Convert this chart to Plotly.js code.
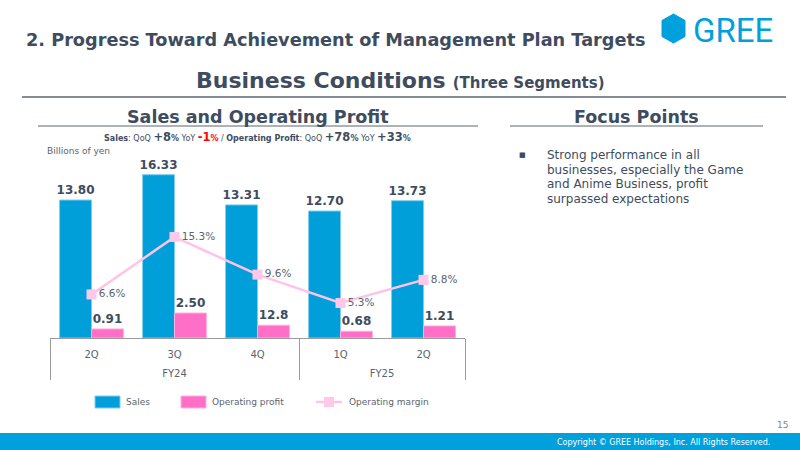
<!DOCTYPE html>
<html>
<head>
<meta charset="utf-8">
<script src="https://cdn.plot.ly/plotly-3.0.1.min.js"></script>
<style>
  html, body { margin: 0; padding: 0; background: #ffffff; }
  #chart { width: 800px; height: 450px; }
</style>
</head>
<body>
<div id="chart"></div>
<script>
// ---- data ----
var fiscalYears = ["FY24", "FY24", "FY24", "FY25", "FY25"];
// second FY25 "2Q" carries a zero-width space so the category stays distinct and in order
var quarters = ["2Q", "3Q", "4Q", "1Q", "2Q\u200B"];
var sales = [13.80, 16.33, 13.31, 12.70, 13.73];
var salesLabels = ["13.80", "16.33", "13.31", "12.70", "13.73"];
var operatingProfit = [0.91, 2.50, 1.28, 0.68, 1.21];
var profitLabels = ["0.91", "2.50", "12.8", "0.68", "1.21"];
var operatingMargin = [6.6, 15.3, 9.6, 5.3, 8.8];
var marginLabels = ["6.6%", "15.3%", "9.6%", "5.3%", "8.8%"];
var seriesNames = ["Sales", "Operating profit", "Operating margin"];
var focusLines = ["Strong performance in all", "businesses, especially the Game", "and Anime Business, profit", "surpassed expectations"];

// ---- geometry helpers (pixel -> paper) ----
var L = 50, R = 465, T = 163, B = 338;
function X(px) { return (px - L) / (R - L); }
function Y(py) { return (B - py) / (B - T); }

var slate = "#3E4C5E";
var grayText = "#5A6470";
var FONT = "DejaVu Sans, Verdana, sans-serif";
var BLUE = "#009FD9", PINK = "#FF6FC8", LINEPINK = "#FFC3E6";

var xcat = [fiscalYears.map(function (f) { return "<br>" + f; }), quarters];

var traces = [
  {
    type: "bar", name: seriesNames[0], x: xcat, y: sales,
    text: salesLabels, textposition: "outside", cliponaxis: false,
    constraintext: "none",
    textfont: { family: FONT, size: 12, color: slate, weight: "bold" },
    marker: { color: BLUE, line: { color: "#7FCDEE", width: 1 } },
    hoverinfo: "skip"
  },
  {
    type: "bar", name: seriesNames[1], x: xcat, y: operatingProfit,
    text: profitLabels, textposition: "outside", cliponaxis: false,
    constraintext: "none",
    textfont: { family: FONT, size: 12, color: slate, weight: "bold" },
    marker: { color: PINK, line: { color: "#FFB0E0", width: 1 } },
    hoverinfo: "skip"
  },
  {
    type: "scatter", mode: "lines+markers+text", name: seriesNames[2],
    x: xcat, y: operatingMargin, yaxis: "y2",
    text: marginLabels, textposition: "middle right", cliponaxis: false,
    textfont: { family: FONT, size: 10.5, color: grayText },
    line: { color: LINEPINK, width: 2.5 },
    marker: { symbol: "square", size: 10, color: "#FFC8E8", line: { width: 0 } },
    hoverinfo: "skip"
  }
];

var ann = [];
function addText(text, px, py, size, opts) {
  opts = opts || {};
  ann.push(Object.assign({
    text: text, xref: "paper", yref: "paper", x: X(px), y: Y(py),
    xanchor: "left", yanchor: "middle", showarrow: false,
    font: { family: FONT, size: size, color: slate }
  }, opts));
}

addText("<b>2. Progress Toward Achievement of Management Plan Targets</b>", 24, 40, 17.7);
addText("<b>Business Conditions</b> <b><span style='font-size:15px'>(Three Segments)</span></b>", 400, 80, 22, { xanchor: "center" });
addText("<b>Sales and Operating Profit</b>", 258, 117, 17.5, { xanchor: "center" });
addText("<b>Focus Points</b>", 636, 117, 17.5, { xanchor: "center" });
addText("<b>Sales</b>: QoQ <b><span style='font-size:11.5px'>+8</span>%</b> YoY <b><span style='color:#FF0000'><span style='font-size:11.5px'>-1</span>%</span></b> / <b>Operating Profit</b>: QoQ <b><span style='font-size:11.5px'>+78</span>%</b> YoY <b><span style='font-size:11.5px'>+33</span>%</b>", 257, 137, 8, { xanchor: "center" });
addText("Billions of yen", 45, 151, 9, { font: { family: FONT, size: 9, color: grayText } });
addText("■", 522, 155, 7, { xanchor: "center" });
var focusY = [155, 169.7, 184.4, 199.1];
focusLines.forEach(function (t, i) { addText(t, 545, focusY[i], 12); });
addText("GREE", 691, 30, 33, { font: { family: "Roboto, Noto Sans, sans-serif", size: 33, color: "#00A0DC" } });
addText("15", 790, 425, 9, { xanchor: "right", font: { family: FONT, size: 9, color: "#7A8490" } });
addText("Copyright © GREE Holdings, Inc. All Rights Reserved.", 772, 442, 8, { xanchor: "right", font: { family: FONT, size: 8, color: "#FFFFFF" } });

// legend labels
var legendY = 402;
addText(seriesNames[0], 124, legendY, 9, { font: { family: FONT, size: 9, color: grayText } });
addText(seriesNames[1], 210, legendY, 9, { font: { family: FONT, size: 9, color: grayText } });
addText(seriesNames[2], 347, legendY, 9, { font: { family: FONT, size: 9, color: grayText } });

var shapes = [
  // top rule
  { type: "line", xref: "paper", yref: "paper", x0: X(22), x1: X(786), y0: Y(97), y1: Y(97), line: { color: "#5C6670", width: 1.5 } },
  // section rules
  { type: "line", xref: "paper", yref: "paper", x0: X(38), x1: X(478), y0: Y(126), y1: Y(126), line: { color: "#5C6670", width: 1.2 } },
  { type: "line", xref: "paper", yref: "paper", x0: X(510), x1: X(763), y0: Y(126), y1: Y(126), line: { color: "#5C6670", width: 1.2 } },
  // footer band
  { type: "rect", xref: "paper", yref: "paper", x0: X(0), x1: X(800), y0: Y(433), y1: Y(451), fillcolor: "#00A0DC", line: { width: 0 }, layer: "below" },
  // GREE hexagon logo
  { type: "path", xref: "paper", yref: "paper",
    path: "M " + X(673.5) + " " + Y(14) + " L " + X(685) + " " + Y(20.5) + " L " + X(685) + " " + Y(36.5) +
          " L " + X(673.5) + " " + Y(43) + " L " + X(662) + " " + Y(36.5) + " L " + X(662) + " " + Y(20.5) + " Z",
    fillcolor: "#00A0DC", line: { color: "#00A0DC", width: 1 } },
  // legend swatches
  { type: "rect", xref: "paper", yref: "paper", x0: X(95), x1: X(120), y0: Y(legendY + 6), y1: Y(legendY - 6), fillcolor: BLUE, line: { color: "#7FCDEE", width: 1 } },
  { type: "rect", xref: "paper", yref: "paper", x0: X(181), x1: X(206), y0: Y(legendY + 6), y1: Y(legendY - 6), fillcolor: PINK, line: { color: "#FFB0E0", width: 1 } },
  { type: "line", xref: "paper", yref: "paper", x0: X(316), x1: X(342), y0: Y(legendY), y1: Y(legendY), line: { color: LINEPINK, width: 2.5 } },
  { type: "rect", xref: "paper", yref: "paper", x0: X(324), x1: X(334), y0: Y(legendY + 5), y1: Y(legendY - 5), fillcolor: "#FFC8E8", line: { width: 0 } }
];

var layout = {
  width: 800, height: 450,
  margin: { l: L, r: 800 - R, t: T, b: 450 - B, pad: 0 },
  paper_bgcolor: "#ffffff", plot_bgcolor: "#ffffff",
  font: { family: FONT, color: slate },
  barmode: "group", bargap: 0.23, bargroupgap: 0,
  showlegend: false,
  xaxis: {
    type: "multicategory", showline: true, linecolor: "#9A9A9A", linewidth: 1,
    showgrid: false, zeroline: false, ticks: "",
    ticklabelstandoff: 7,
    showdividers: true, dividercolor: "#9A9A9A", dividerwidth: 1,
    tickfont: { family: FONT, size: 10, color: grayText },
    range: [-0.5, 4.5], fixedrange: true
  },
  yaxis: { range: [0, 17.5], visible: false, showgrid: false, zeroline: false, fixedrange: true },
  yaxis2: { range: [0, 26.5], overlaying: "y", visible: false, showgrid: false, zeroline: false, fixedrange: true },
  annotations: ann,
  shapes: shapes
};

Plotly.newPlot("chart", traces, layout, { displayModeBar: false, staticPlot: true });
</script>
</body>
</html>
